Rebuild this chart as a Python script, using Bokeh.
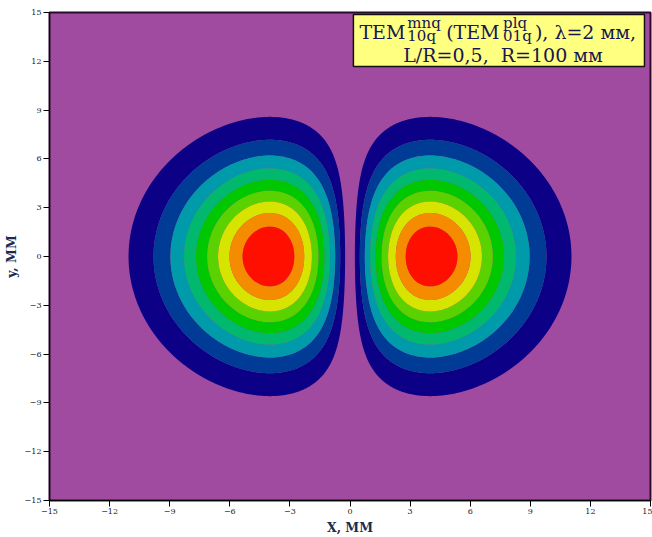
import numpy as np
from bokeh.plotting import figure
from bokeh.models import FixedTicker, BoxAnnotation, Label
from bokeh.embed import file_html
from bokeh.resources import INLINE

# ---- data ----
X_RANGE = [-15, 15]
Y_RANGE = [-15, 15]
TICKS = [-15, -12, -9, -6, -3, 0, 3, 6, 9, 12, 15]
# normalized field amplitude contour levels
LEVELS = [0.1, 0.2, 0.3, 0.4, 0.5, 0.6, 0.7, 0.8, 0.9, 1.01]
COLORS = ["#0C0087", "#003C96", "#009BAA", "#00B96E", "#00C800",
          "#5AD200", "#D7E400", "#F58C00", "#FF0F00"]
BEAM_W = 4.0        # mm, lobe peak offset / Gaussian width parameter
GRID_N = 481

xs = np.linspace(X_RANGE[0], X_RANGE[1], GRID_N)
ys = np.linspace(Y_RANGE[0], Y_RANGE[1], GRID_N)
XX, YY = np.meshgrid(xs, ys)
# TEM10 mode amplitude, normalized to 1 at the lobe peaks
ZZ = np.abs(XX) / BEAM_W * np.exp(0.5 - (XX**2 + YY**2) / (2 * BEAM_W**2))

BG = "#A04BA0"
TXT = "#161650"
TITLE_C = "#1c2a50"

p = figure(width=652, height=537, x_range=(X_RANGE[0], X_RANGE[1]),
           y_range=(Y_RANGE[0], Y_RANGE[1]), output_backend="svg",
           toolbar_location=None, min_border_left=47, min_border_right=2,
           min_border_top=12, min_border_bottom=37)
p.background_fill_color = BG
p.border_fill_color = "white"
p.outline_line_color = "#2b0b2b"
p.outline_line_width = 2
p.grid.visible = False

p.contour(xs, ys, ZZ, LEVELS, fill_color=COLORS)

for ax in (p.xaxis[0], p.yaxis[0]):
    ax.ticker = FixedTicker(ticks=TICKS)
    ax.major_tick_out = 6
    ax.major_tick_in = 0
    ax.minor_tick_out = 0
    ax.minor_tick_in = 0
    ax.axis_line_color = "black"
    ax.major_tick_line_color = "black"
    ax.major_label_text_font = "DejaVu Serif"
    ax.major_label_text_font_size = "8px"
    ax.major_label_text_color = "#1a1a1a"
    ax.major_label_standoff = 2
    ax.axis_label_text_font = "DejaVu Serif"
    ax.axis_label_text_font_style = "bold"
    ax.axis_label_text_font_size = "12.5px"
    ax.axis_label_text_color = TITLE_C
    ax.axis_label_standoff = 3

p.xaxis.axis_label = "X, MM"
p.yaxis.axis_label = "y, MM"

# legend box
p.add_layout(BoxAnnotation(left=0.17, right=14.7, bottom=11.68, top=14.87,
                           fill_color="#FFFF80", fill_alpha=1,
                           line_color="#111111", line_width=1.5, line_alpha=1))

F = "DejaVu Serif"
NB = "\u00a0"
def lab(x, y, t, size, align="left"):
    p.add_layout(Label(x=x, y=y, text=t, text_font=F, text_font_size=size,
                       text_color=TXT, text_baseline="alphabetic",
                       text_align=align))

lab(0.47, 13.80, "TEM", "19px")
lab(2.86, 14.38, "mnq", "15px")
lab(2.86, 13.56, "10q", "15px")
lab(4.80, 13.80, "(TEM", "19px")
lab(7.64, 14.38, "plq", "15px")
lab(7.64, 13.56, "01q", "15px")
lab(9.23, 13.80, "), \u03bb=2 \u043c\u043c,", "19px")
lab(7.64, 12.37, "L/R=0,5," + NB + NB + "R=100" + NB + "\u043c\u043c", "19px", "center")

open("out.html", "w").write(file_html(p, INLINE))
